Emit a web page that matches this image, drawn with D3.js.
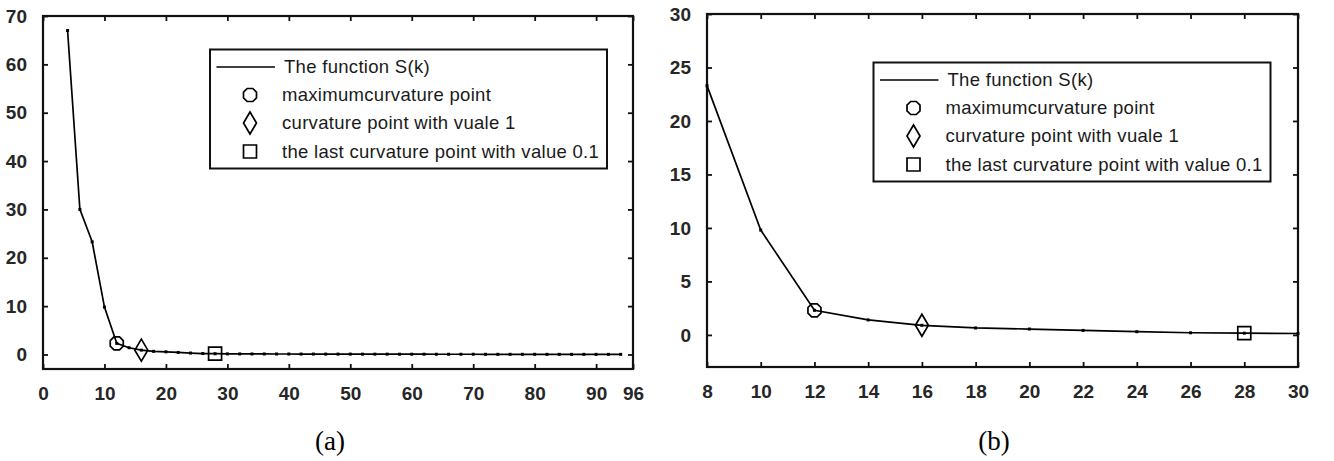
<!DOCTYPE html>
<html>
<head>
<meta charset="utf-8">
<script src="https://cdn.jsdelivr.net/npm/d3@7/dist/d3.min.js"></script>
<style>
  html, body { margin: 0; padding: 0; background: #fff; }
  svg { display: block; }
</style>
</head>
<body>
<svg id="chart" width="1334" height="461"></svg>
<script>
// ---------- data ----------
// panel (a): S(k) for even k = 4..94
const kA = [4, 6, 8, 10, 12, 14, 16, 18, 20, 22, 24, 26, 28, 30, 32, 34, 36, 38, 40, 42, 44, 46, 48,
            50, 52, 54, 56, 58, 60, 62, 64, 66, 68, 70, 72, 74, 76, 78, 80, 82, 84, 86, 88, 90, 92, 94];
const sA = [67, 30, 23.3, 9.8, 2.3, 1.4, 0.9, 0.65, 0.55, 0.42, 0.3, 0.2, 0.16, 0.13, 0.12, 0.11, 0.11, 0.1, 0.1, 0.09, 0.09, 0.08, 0.08,
            0.08, 0.07, 0.07, 0.07, 0.06, 0.06, 0.06, 0.05, 0.05, 0.05, 0.05, 0.04, 0.04, 0.04, 0.04, 0.04, 0.03, 0.03, 0.03, 0.03, 0.03, 0.03, 0.03];
// panel (b): zoom on k = 8..30
const kB = [8, 10, 12, 14, 16, 18, 20, 22, 24, 26, 28, 30];
const sB = [23.3, 9.8, 2.3, 1.4, 0.9, 0.65, 0.55, 0.42, 0.3, 0.2, 0.16, 0.13];

// special points: [k, value]
const maxCurvPt = [12, 2.3];
const curv1Pt = [16, 0.9];
const lastCurvPt = [28, 0.16];

const xTicksA = [0, 10, 20, 30, 40, 50, 60, 70, 80, 90, 96];
const yTicksA = [0, 10, 20, 30, 40, 50, 60, 70];
const xTicksB = [8, 10, 12, 14, 16, 18, 20, 22, 24, 26, 28, 30];
const yTicksB = [0, 5, 10, 15, 20, 25, 30];

const legendLabels = ["The function S(k)", "maximumcurvature point", "curvature point with vuale 1", "the last curvature point with value 0.1"];
const panelLabels = ["(a)", "(b)"];

// ---------- drawing ----------
const svg = d3.select("#chart");

function markerPath(type, cx, cy) {
  if (type === "diamond") {
    return `M${cx},${cy - 11}L${cx + 6.5},${cy}L${cx},${cy + 11}L${cx - 6.5},${cy}Z`;
  }
  if (type === "square") {
    return `M${cx - 6.5},${cy - 6.5}h13v13h-13Z`;
  }
  const r = 6.5, a = 2.8;
  return `M${cx - a},${cy - r}L${cx + a},${cy - r}L${cx + r},${cy - a}L${cx + r},${cy + a}L${cx + a},${cy + r}L${cx - a},${cy + r}L${cx - r},${cy + a}L${cx - r},${cy - a}Z`;
}

function drawPanel(cfg) {
  const g = svg.append("g");
  const x = d3.scaleLinear().domain(cfg.xDomain).range([cfg.left, cfg.right]);
  const y = d3.scaleLinear().domain(cfg.yDomain).range([cfg.bottom, cfg.top]);
  const tickLen = 5;

  const axisStyle = sel => {
    sel.select(".domain").remove();
    sel.selectAll(".tick line").attr("stroke", "#111").attr("stroke-width", 1.8);
    sel.selectAll("text").attr("font-family", "Liberation Sans, Arial, sans-serif")
      .attr("font-size", 19).attr("font-weight", "bold").attr("fill", "#262626");
  };

  g.append("g").attr("transform", `translate(0,${cfg.bottom})`)
    .call(d3.axisBottom(x).tickValues(cfg.xTicks).tickSizeInner(-tickLen).tickSizeOuter(0).tickPadding(18).tickFormat(d3.format("d")))
    .call(axisStyle);
  g.append("g").attr("transform", `translate(0,${cfg.top})`)
    .call(d3.axisTop(x).tickValues(cfg.xTicks).tickSizeInner(-tickLen).tickSizeOuter(0).tickFormat(""))
    .call(axisStyle);
  g.append("g").attr("transform", `translate(${cfg.left},0)`)
    .call(d3.axisLeft(y).tickValues(cfg.yTicks).tickSizeInner(-tickLen).tickSizeOuter(0).tickPadding(16).tickFormat(d3.format("d")))
    .call(axisStyle);
  g.append("g").attr("transform", `translate(${cfg.right},0)`)
    .call(d3.axisRight(y).tickValues(cfg.yTicks).tickSizeInner(-tickLen).tickSizeOuter(0).tickFormat(""))
    .call(axisStyle);

  g.append("rect").attr("x", cfg.left).attr("y", cfg.top)
    .attr("width", cfg.right - cfg.left).attr("height", cfg.bottom - cfg.top)
    .attr("fill", "none").attr("stroke", "#111").attr("stroke-width", 2.2);

  const pts = cfg.k.map((k, i) => [k, cfg.s[i]]);
  g.append("path").datum(pts)
    .attr("d", d3.line().x(d => x(d[0])).y(d => y(d[1])))
    .attr("fill", "none").attr("stroke", "#000").attr("stroke-width", 1.7);
  g.selectAll("rect.dot").data(pts).enter().append("rect").attr("class", "dot")
    .attr("x", d => x(d[0]) - 1.5).attr("y", d => y(d[1]) - 1.5)
    .attr("width", 3).attr("height", 3).attr("fill", "#000");

  const specials = [["circle", maxCurvPt], ["diamond", curv1Pt], ["square", lastCurvPt]];
  specials.forEach(([t, p]) => {
    g.append("path").attr("d", markerPath(t, x(p[0]), y(p[1])))
      .attr("fill", "none").attr("stroke", "#000").attr("stroke-width", 1.7);
  });

  const L = cfg.legend;
  const lg = g.append("g").attr("transform", `translate(${L.x},${L.y})`);
  lg.append("rect").attr("width", 397).attr("height", 119)
    .attr("fill", "#fff").attr("stroke", "#111").attr("stroke-width", 2);
  const rowY = [17.5, 45.5, 73.5, 102];
  lg.append("line").attr("x1", 6.5).attr("x2", 65).attr("y1", rowY[0]).attr("y2", rowY[0])
    .attr("stroke", "#000").attr("stroke-width", 1.7);
  ["circle", "diamond", "square"].forEach((t, i) => {
    lg.append("path").attr("d", markerPath(t, 40, rowY[i + 1]))
      .attr("fill", "none").attr("stroke", "#000").attr("stroke-width", 1.7);
  });
  lg.selectAll("text").data(legendLabels).enter().append("text")
    .attr("x", (d, i) => i === 0 ? 74 : 72)
    .attr("y", (d, i) => rowY[i])
    .attr("dy", "0.35em")
    .attr("font-family", "Liberation Sans, Arial, sans-serif")
    .attr("font-size", 18.5).attr("letter-spacing", 0.3)
    .attr("fill", "#1a1a1a")
    .text(d => d);

  svg.append("text").attr("x", cfg.labelX).attr("y", 450)
    .attr("text-anchor", "middle")
    .attr("font-family", "Liberation Serif, Times New Roman, serif")
    .attr("font-size", 27).attr("fill", "#000")
    .text(cfg.label);
}

drawPanel({
  xDomain: [0, 96], yDomain: [-3, 70],
  left: 43, right: 633, top: 16, bottom: 369,
  xTicks: xTicksA, yTicks: yTicksA,
  k: kA, s: sA,
  legend: { x: 210, y: 49.5 },
  label: panelLabels[0], labelX: 330
});

drawPanel({
  xDomain: [8, 30], yDomain: [-3, 30],
  left: 707, right: 1298, top: 14, bottom: 367,
  xTicks: xTicksB, yTicks: yTicksB,
  k: kB, s: sB,
  legend: { x: 873.5, y: 62.5 },
  label: panelLabels[1], labelX: 994
});
</script>
</body>
</html>
